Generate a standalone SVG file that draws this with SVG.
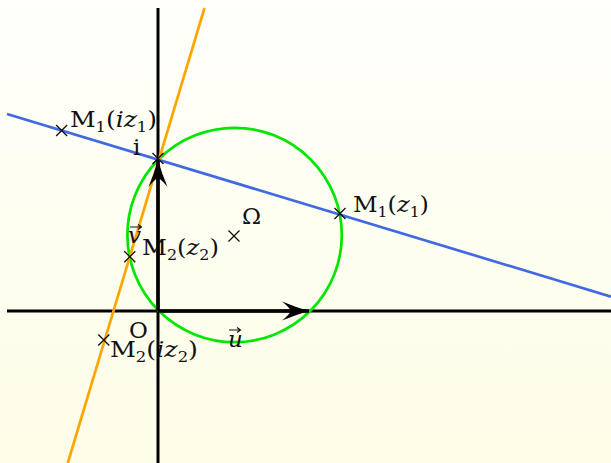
<svg xmlns="http://www.w3.org/2000/svg" xmlns:xlink="http://www.w3.org/1999/xlink" width="611" height="463" viewBox="0 0 611 463">
  <defs>
    <linearGradient id="bg" x1="0" y1="0" x2="0" y2="1">
      <stop offset="0" stop-color="#fffffb"/>
      <stop offset="1" stop-color="#fdfde7"/>
    </linearGradient>
    <path id="cross" d="M-5.5,-5.5 L5.5,5.5 M-5.5,5.5 L5.5,-5.5" stroke="#111" stroke-width="1.3" fill="none"/>
    <path id="accent" d="M0,0 L11,0 M8,-2.5 L11.5,0 L8,2.5" stroke="#111" stroke-width="1.1" fill="none"/>
    <marker id="arr" viewBox="-28 -10 29 20" refX="0" refY="0" markerWidth="29" markerHeight="20" markerUnits="userSpaceOnUse" orient="auto">
      <path d="M0,0 Q-14,-4 -27,-9.5 Q-20,-4 -18,0 Q-20,4 -27,9.5 Q-14,4 0,0 Z" fill="#000"/>
    </marker>
  </defs>
  <style>
    text { font-family: "DejaVu Serif", "Liberation Serif", serif; font-size: 23px; fill: #111; }
    .sub { font-size: 15px; }
    .it { font-style: italic; }
    .axis { stroke: #000; stroke-width: 3; fill: none; }
    .vec { stroke: #000; stroke-width: 3.5; fill: none; }
  </style>
  <rect x="0" y="0" width="611" height="463" fill="url(#bg)"/>

  <g id="axes">
    <line class="axis" x1="7" y1="311" x2="611" y2="311"/>
    <line class="axis" x1="158" y1="8" x2="158" y2="463"/>
  </g>

  <g id="circle">
    <circle cx="234.6" cy="235" r="107.2" fill="none" stroke="#00e600" stroke-width="2.7"/>
  </g>

  <g id="connectors">
    <line x1="7" y1="114" x2="611" y2="296.6" stroke="#4169e1" stroke-width="2.7"/>
    <line x1="204.5" y1="8" x2="67.8" y2="463" stroke="#ffa500" stroke-width="2.7"/>
    <line class="vec" x1="158" y1="311" x2="158" y2="160" marker-end="url(#arr)"/>
    <line class="vec" x1="158" y1="311" x2="309" y2="311" marker-end="url(#arr)"/>
  </g>

  <g id="point-i">
    <use xlink:href="#cross" x="158" y="158.5"/>
    <text x="133" y="155">i</text>
  </g>
  <g id="point-O">
    <text x="129" y="338">O</text>
  </g>
  <g id="point-Omega">
    <use xlink:href="#cross" x="234" y="236"/>
    <text x="242" y="224">Ω</text>
  </g>
  <g id="point-M1z1">
    <use xlink:href="#cross" x="340" y="213.5"/>
    <text x="353" y="212" textLength="76" lengthAdjust="spacingAndGlyphs">M<tspan class="sub" dy="5">1</tspan><tspan dy="-5">(</tspan><tspan class="it">z</tspan><tspan class="sub" dy="5">1</tspan><tspan dy="-5">)</tspan></text>
  </g>
  <g id="point-M1iz1">
    <use xlink:href="#cross" x="61.6" y="130.5"/>
    <text x="70" y="127" textLength="87" lengthAdjust="spacingAndGlyphs">M<tspan class="sub" dy="5">1</tspan><tspan dy="-5">(</tspan><tspan class="it">iz</tspan><tspan class="sub" dy="5">1</tspan><tspan dy="-5">)</tspan></text>
  </g>
  <g id="point-M2z2">
    <use xlink:href="#cross" x="129.8" y="256.7"/>
    <text x="142" y="255" textLength="77" lengthAdjust="spacingAndGlyphs">M<tspan class="sub" dy="5">2</tspan><tspan dy="-5">(</tspan><tspan class="it">z</tspan><tspan class="sub" dy="5">2</tspan><tspan dy="-5">)</tspan></text>
  </g>
  <g id="point-M2iz2">
    <use xlink:href="#cross" x="103.8" y="340"/>
    <text x="110" y="357" textLength="88" lengthAdjust="spacingAndGlyphs">M<tspan class="sub" dy="5">2</tspan><tspan dy="-5">(</tspan><tspan class="it">iz</tspan><tspan class="sub" dy="5">2</tspan><tspan dy="-5">)</tspan></text>
  </g>
  <g id="label-v">
    <text x="128" y="243" class="it">v</text>
    <use xlink:href="#accent" x="130" y="227"/>
  </g>
  <g id="label-u">
    <text x="228" y="347" class="it">u</text>
    <use xlink:href="#accent" x="229" y="330"/>
  </g>
</svg>
